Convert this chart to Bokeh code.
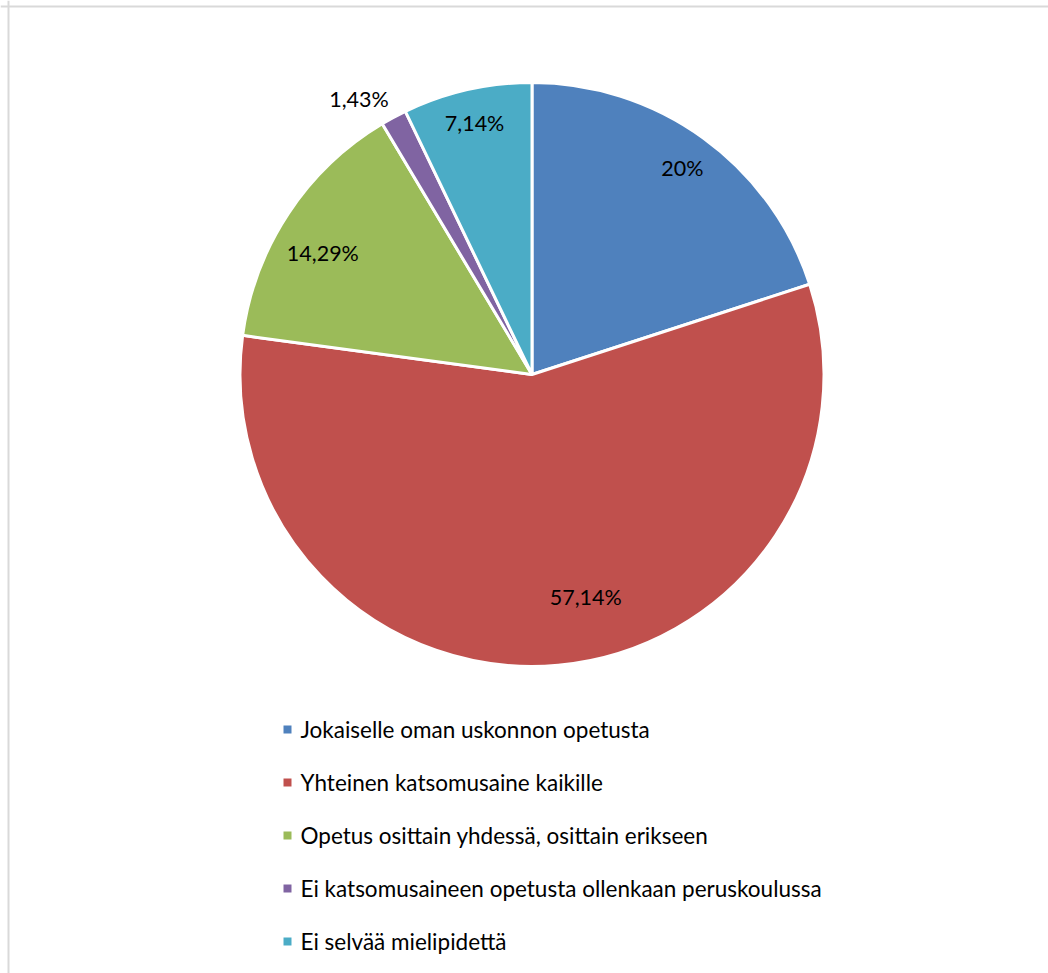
import math
from bokeh.plotting import figure
from bokeh.models import Range1d, Span, ColumnDataSource
from bokeh.core.properties import value
from bokeh.embed import file_html
from bokeh.resources import INLINE

# ---- data ----
categories = [
    "Jokaiselle oman uskonnon opetusta",
    "Yhteinen katsomusaine kaikille",
    "Opetus osittain yhdessä, osittain erikseen",
    "Ei katsomusaineen opetusta ollenkaan peruskoulussa",
    "Ei selvää mielipidettä",
]
shares = [20.0, 57.14, 14.29, 1.43, 7.14]
share_labels = ["20%", "57,14%", "14,29%", "1,43%", "7,14%"]
colors = ["#4F81BD", "#C0504D", "#9BBB59", "#8064A2", "#4BACC6"]

# ---- layout (pixels, measured from top-left of the picture) ----
W, H = 1048, 973
cx, cy = 531.5, H - 374.0
R = 292.0
label_r_factor = [0.876, 0.785, 0.829, 1.113, 0.884]
label_angle_shift_deg = [0.0, 8.4, 3.2, 3.9, 0.0]
FONT = "Lato"

p = figure(width=W, height=H, output_backend="svg", toolbar_location=None,
           x_range=Range1d(0, W), y_range=Range1d(0, H),
           x_axis_location=None, y_axis_location=None, min_border=0)
p.grid.visible = False
p.outline_line_color = None
p.background_fill_color = "white"
p.border_fill_color = "white"

total = sum(shares)
starts, ends, lx, ly = [], [], [], []
cum = 0.0
for i, s in enumerate(shares):
    a0 = math.pi / 2 - 2 * math.pi * cum / total
    cum += s
    a1 = math.pi / 2 - 2 * math.pi * cum / total
    starts.append(a1)
    ends.append(a0)
    mid = (a0 + a1) / 2 + math.radians(label_angle_shift_deg[i])
    lx.append(cx + R * label_r_factor[i] * math.cos(mid))
    ly.append(cy + R * label_r_factor[i] * math.sin(mid))

src = ColumnDataSource(dict(start=starts, end=ends, color=colors,
                            lx=lx, ly=ly, lab=share_labels))
p.wedge(x=cx, y=cy, radius=R, start_angle="start", end_angle="end",
        direction="anticlock", fill_color="color", line_color="white",
        line_width=3, source=src)
p.text(x="lx", y="ly", text="lab", source=src, text_align="center",
       text_baseline="middle", text_font=value(FONT), text_font_size="21.5px",
       text_color="#000000")

# ---- legend ----
leg_x0 = 287
leg_y0 = H - 729
leg_dy = 53
leg_y = [leg_y0 - i * leg_dy for i in range(len(categories))]
lsrc = ColumnDataSource(dict(x=[leg_x0] * len(categories), y=leg_y,
                             tx=[leg_x0 + 13] * len(categories),
                             t=categories, color=colors))
p.rect(x="x", y="y", width=8, height=8, fill_color="color", line_color=None,
       source=lsrc)
p.text(x="tx", y="y", text="t", source=lsrc, text_align="left",
       text_baseline="middle", text_font=value(FONT), text_font_size="22.5px",
       text_color="#000000")

# ---- chart border (left & top visible) ----
p.add_layout(Span(location=8, dimension="height", line_color="#d9d9d9", line_width=2))
p.add_layout(Span(location=H - 6, dimension="width", line_color="#d9d9d9", line_width=2))

open("out.html", "w").write(file_html(p, INLINE))
